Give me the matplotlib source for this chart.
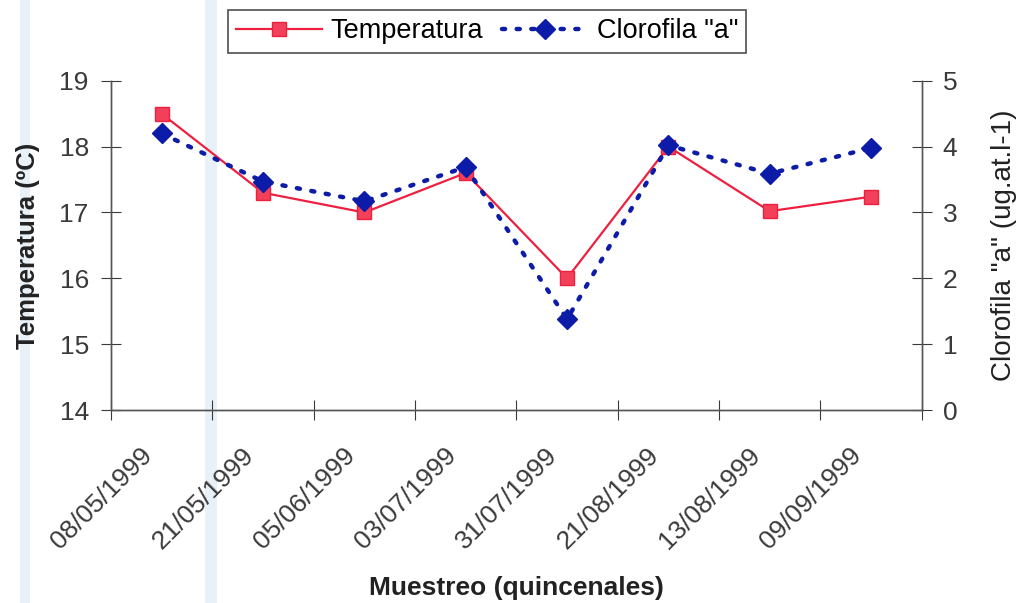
import matplotlib.pyplot as plt
import matplotlib.transforms as mtransforms
from matplotlib.patches import Rectangle

plt.rcParams['font.family'] = ['Liberation Sans', 'DejaVu Sans']

fechas = ['08/05/1999', '21/05/1999', '05/06/1999', '03/07/1999',
          '31/07/1999', '21/08/1999', '13/08/1999', '09/09/1999']
temperatura = [18.5, 17.3, 17.0, 17.6, 16.0, 18.0, 17.02, 17.24]
clorofila = [4.2, 3.47, 3.17, 3.69, 1.38, 4.02, 3.59, 3.98]

rojo = '#EE2040'
azul = '#0D1CA8'
gris = '#3A3A3A'

fig = plt.figure(figsize=(10.23, 6.03), dpi=100)
ax = fig.add_axes([0.1085, 0.320, 0.7925, 0.546])
ax2 = ax.twinx()

x = list(range(len(fechas)))
l1, = ax.plot(x, temperatura, color=rojo, lw=1.6, marker='s', ms=10,
              mfc='#F2405A', mec=rojo, label='Temperatura')
l2, = ax2.plot(x, clorofila, color=azul, lw=3.2, ls=(0, (0.7, 2.6)),
               dash_capstyle='round', marker='D', ms=10, mfc=azul, mec=azul,
               label='Clorofila "a"')

ax.set_xlim(-0.5, len(fechas) - 0.5)
ax.set_ylim(14, 19)
ax2.set_ylim(0, 5)
ax.set_yticks([14, 15, 16, 17, 18, 19])
ax2.set_yticks([0, 1, 2, 3, 4, 5])

# ticks on the category boundaries, labels at the centres
ax.set_xticks([i - 0.5 for i in range(len(fechas) + 1)])
ax.set_xticklabels([])
ax.set_xticks(x, minor=True)
ax.set_xticklabels(fechas, minor=True, rotation=45, ha='right',
                   va='center', rotation_mode='anchor', fontsize=19,
                   color=gris)
ax.tick_params(axis='x', which='minor', length=0, pad=30)
shift = mtransforms.ScaledTranslation(-13 / 100, 0, fig.dpi_scale_trans)
for lab in ax.get_xticklabels(minor=True):
    lab.set_transform(lab.get_transform() + shift)
ax.tick_params(axis='x', which='major', direction='inout', length=14,
               color=gris)
ax.tick_params(axis='y', direction='inout', length=14, labelsize=19,
               labelcolor=gris, color=gris, pad=9)
ax2.tick_params(axis='y', direction='inout', length=14, labelsize=19,
                labelcolor=gris, color=gris, pad=8)

for a in (ax, ax2):
    a.spines['top'].set_visible(False)
    a.patch.set_visible(False)
    for s in ('left', 'right', 'bottom'):
        a.spines[s].set_color('#555555')
        a.spines[s].set_linewidth(1.0)

ax.set_ylabel('Temperatura (ºC)', fontsize=18.5, fontweight='bold',
              color='#222222', labelpad=14)
ax2.set_ylabel('Clorofila "a" (ug.at.l-1)', fontsize=20, color='#222222',
               labelpad=24)
ax.set_xlabel('Muestreo (quincenales)', fontsize=19, fontweight='bold',
              color='#222222', labelpad=16)

leg = fig.legend(handles=[l1, l2], loc='upper center', ncol=2,
                 bbox_to_anchor=(0.476, 0.983), borderaxespad=0,
                 fontsize=19.5, frameon=True, fancybox=False,
                 edgecolor='#222222', handlelength=3.2, columnspacing=0.7,
                 handletextpad=0.3, borderpad=0.3)
leg.get_frame().set_linewidth(1.2)

# faint vertical bands from the scanned page
for x0, w in ((0.020, 0.009), (0.200, 0.012)):
    fig.add_artist(Rectangle((x0, 0), w, 1, transform=fig.transFigure,
                             color='#D4E4F2', alpha=0.5, lw=0, zorder=-1))

fig.savefig('out.png', dpi=100)
